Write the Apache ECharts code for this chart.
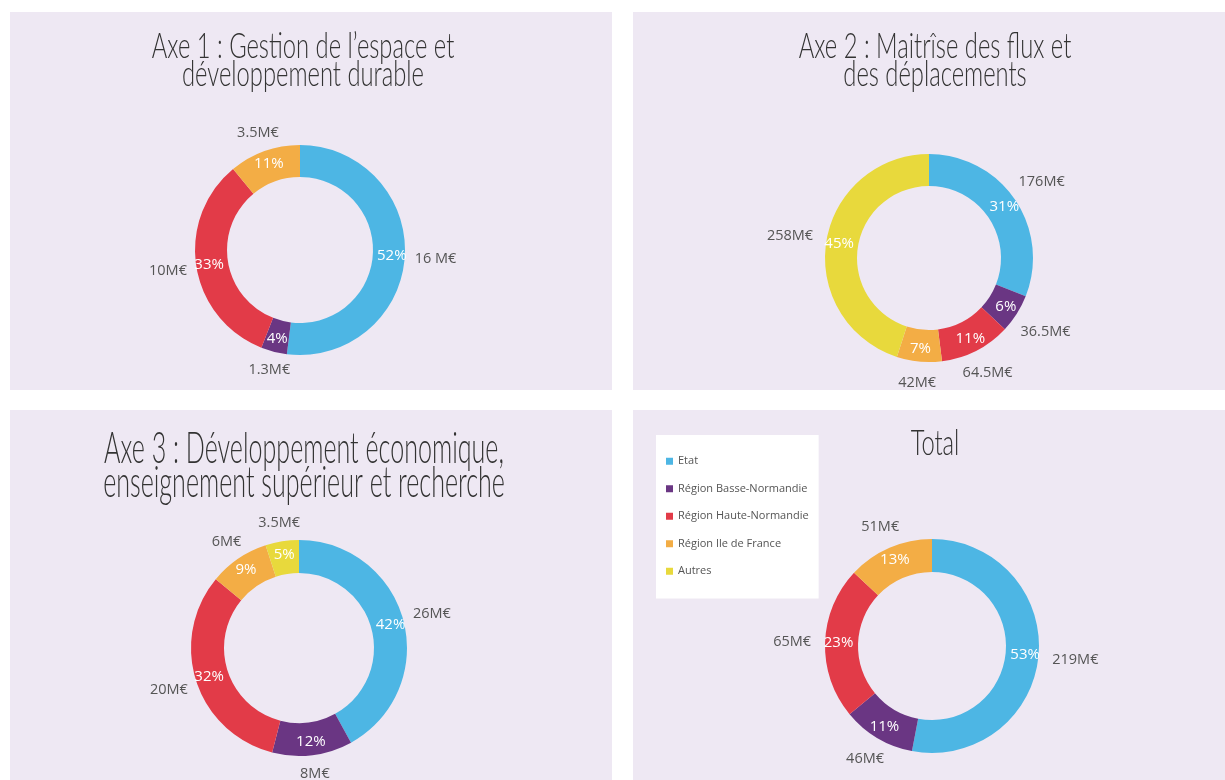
<!DOCTYPE html>
<html>
<head>
<meta charset="utf-8">
<script src="https://cdn.jsdelivr.net/npm/echarts@6/dist/echarts.min.js"></script>
<style>
  html, body { margin: 0; padding: 0; background: #fff; }
  #main { width: 1225px; height: 780px; }
</style>
</head>
<body>
<div id="main"></div>
<script>
// categories and colours
var names = ['Etat', 'Région Basse-Normandie', 'Région Haute-Normandie', 'Région Ile de France', 'Autres']
var colors = ['#4DB6E4', '#6A3683', '#E23B48', '#F3AD45', '#E8D93C']

// values (percent shares and amounts)
var axe1Names = ['Etat', 'Région Basse-Normandie', 'Région Haute-Normandie', 'Région Ile de France']
var axe1Pct = [52, 4, 33, 11]
var axe1Amt = ['16 M€', '1.3M€', '10M€', '3.5M€']

var axe2Names = ['Etat', 'Région Basse-Normandie', 'Région Haute-Normandie', 'Région Ile de France', 'Autres']
var axe2Pct = [31, 6, 11, 7, 45]
var axe2Amt = ['176M€', '36.5M€', '64.5M€', '42M€', '258M€']

var axe3Names = ['Etat', 'Région Basse-Normandie', 'Région Haute-Normandie', 'Région Ile de France', 'Autres']
var axe3Pct = [42, 12, 32, 9, 5]
var axe3Amt = ['26M€', '8M€', '20M€', '6M€', '3.5M€']

var totalNames = ['Etat', 'Région Basse-Normandie', 'Région Haute-Normandie', 'Région Ile de France']
var totalPct = [53, 11, 23, 13]
var totalAmt = ['219M€', '46M€', '65M€', '51M€']

var titles = [
  'Axe 1 : Gestion de l’espace et\ndéveloppement durable',
  'Axe 2 : Maitrîse des flux et\ndes déplacements',
  'Axe 3 : Développement économique,\nenseignement supérieur et recherche',
  'Total'
]

var panelBg = '#EEE8F3'
var labelFont = '"Open Sans", "Noto Sans", sans-serif'

function colorOf (name) {
  return colors[names.indexOf(name)]
}

// put the amount just outside the ring, on the slice's middle direction
function outerLayout (pct, center, R, gap) {
  var total = pct.reduce(function (a, b) { return a + b }, 0)
  return function (params) {
    var before = 0
    for (var i = 0; i < params.dataIndex; i++) before += pct[i]
    var a = (before + pct[params.dataIndex] / 2) / total * Math.PI * 2
    var dx = Math.sin(a)
    var dy = -Math.cos(a)
    var w = params.labelRect.width / 2
    var h = params.labelRect.height / 2
    var d = R + gap + w * dx * dx + h * dy * dy
    return {
      x: center[0] + d * dx,
      y: center[1] + d * dy,
      align: 'center',
      verticalAlign: 'middle'
    }
  }
}

// ring with the white percentage inside, plus a transparent twin for the amount outside
function ringSeries (catNames, pct, amt, center, radius, gap) {
  return [{
    type: 'pie',
    center: center,
    radius: radius,
    avoidLabelOverlap: false,
    emphasis: { disabled: true },
    label: {
      show: true,
      position: 'inside',
      formatter: '{c}%',
      color: '#fff',
      fontSize: 15,
      fontFamily: labelFont
    },
    labelLine: { show: false },
    data: catNames.map(function (n, i) {
      return { name: n, value: pct[i], itemStyle: { color: colorOf(n) } }
    })
  }, {
    type: 'pie',
    center: center,
    radius: radius,
    silent: true,
    avoidLabelOverlap: false,
    emphasis: { disabled: true },
    label: {
      show: true,
      position: 'outside',
      formatter: function (p) { return amt[p.dataIndex] },
      color: '#555',
      fontSize: 14.5,
      fontFamily: labelFont
    },
    labelLine: { show: false },
    labelLayout: outerLayout(pct, center, radius[1], gap),
    data: catNames.map(function (n, i) {
      return { name: n, value: pct[i], itemStyle: { color: 'rgba(0,0,0,0)' } }
    })
  }]
}

function titleText (text, x, y, size, lh, sx, sy) {
  return {
    type: 'text',
    x: x,
    y: y,
    scaleX: sx,
    scaleY: sy,
    z: 10,
    style: {
      text: text,
      font: '300 ' + size + 'px Lato, sans-serif',
      fill: '#333',
      align: 'center',
      verticalAlign: 'top',
      lineHeight: lh
    }
  }
}

function panel (x, y, w, h) {
  return { type: 'rect', shape: { x: x, y: y, width: w, height: h }, style: { fill: panelBg }, z: -10 }
}

var myChart = echarts.init(document.getElementById('main'))

var series = []
  .concat(ringSeries(axe1Names, axe1Pct, axe1Amt, [300, 250], [73, 105], 10))
  .concat(ringSeries(axe2Names, axe2Pct, axe2Amt, [929, 258], [72, 104], 14))
  .concat(ringSeries(axe3Names, axe3Pct, axe3Amt, [299, 648], [75, 108], 11))
  .concat(ringSeries(totalNames, totalPct, totalAmt, [932, 646], [74, 107], 14))

myChart.setOption({
  backgroundColor: '#fff',
  animation: false,
  graphic: [
    panel(10, 12, 602, 378),
    panel(633, 12, 592, 378),
    panel(10, 410, 602, 370),
    panel(633, 410, 592, 370),
    titleText(titles[0], 303, 32, 36, 28, 0.66, 1),
    titleText(titles[1], 935, 32, 36, 28, 0.66, 1),
    titleText(titles[2], 304, 432, 38, 30.4, 0.66, 1.12),
    titleText(titles[3], 935, 429, 36, 28, 0.66, 1)
  ],
  legend: {
    orient: 'vertical',
    left: 656,
    top: 435,
    backgroundColor: '#fff',
    padding: [20, 10, 21, 10],
    itemWidth: 7,
    itemHeight: 7,
    itemGap: 15,
    itemTextGap: 2,
    icon: 'rect',
    selectedMode: false,
    textStyle: { color: '#555', fontSize: 11, fontFamily: labelFont, lineHeight: 12.5 },
    data: names.map(function (n, i) {
      return { name: n, itemStyle: { color: colors[i] } }
    })
  },
  series: series
})
</script>
</body>
</html>
